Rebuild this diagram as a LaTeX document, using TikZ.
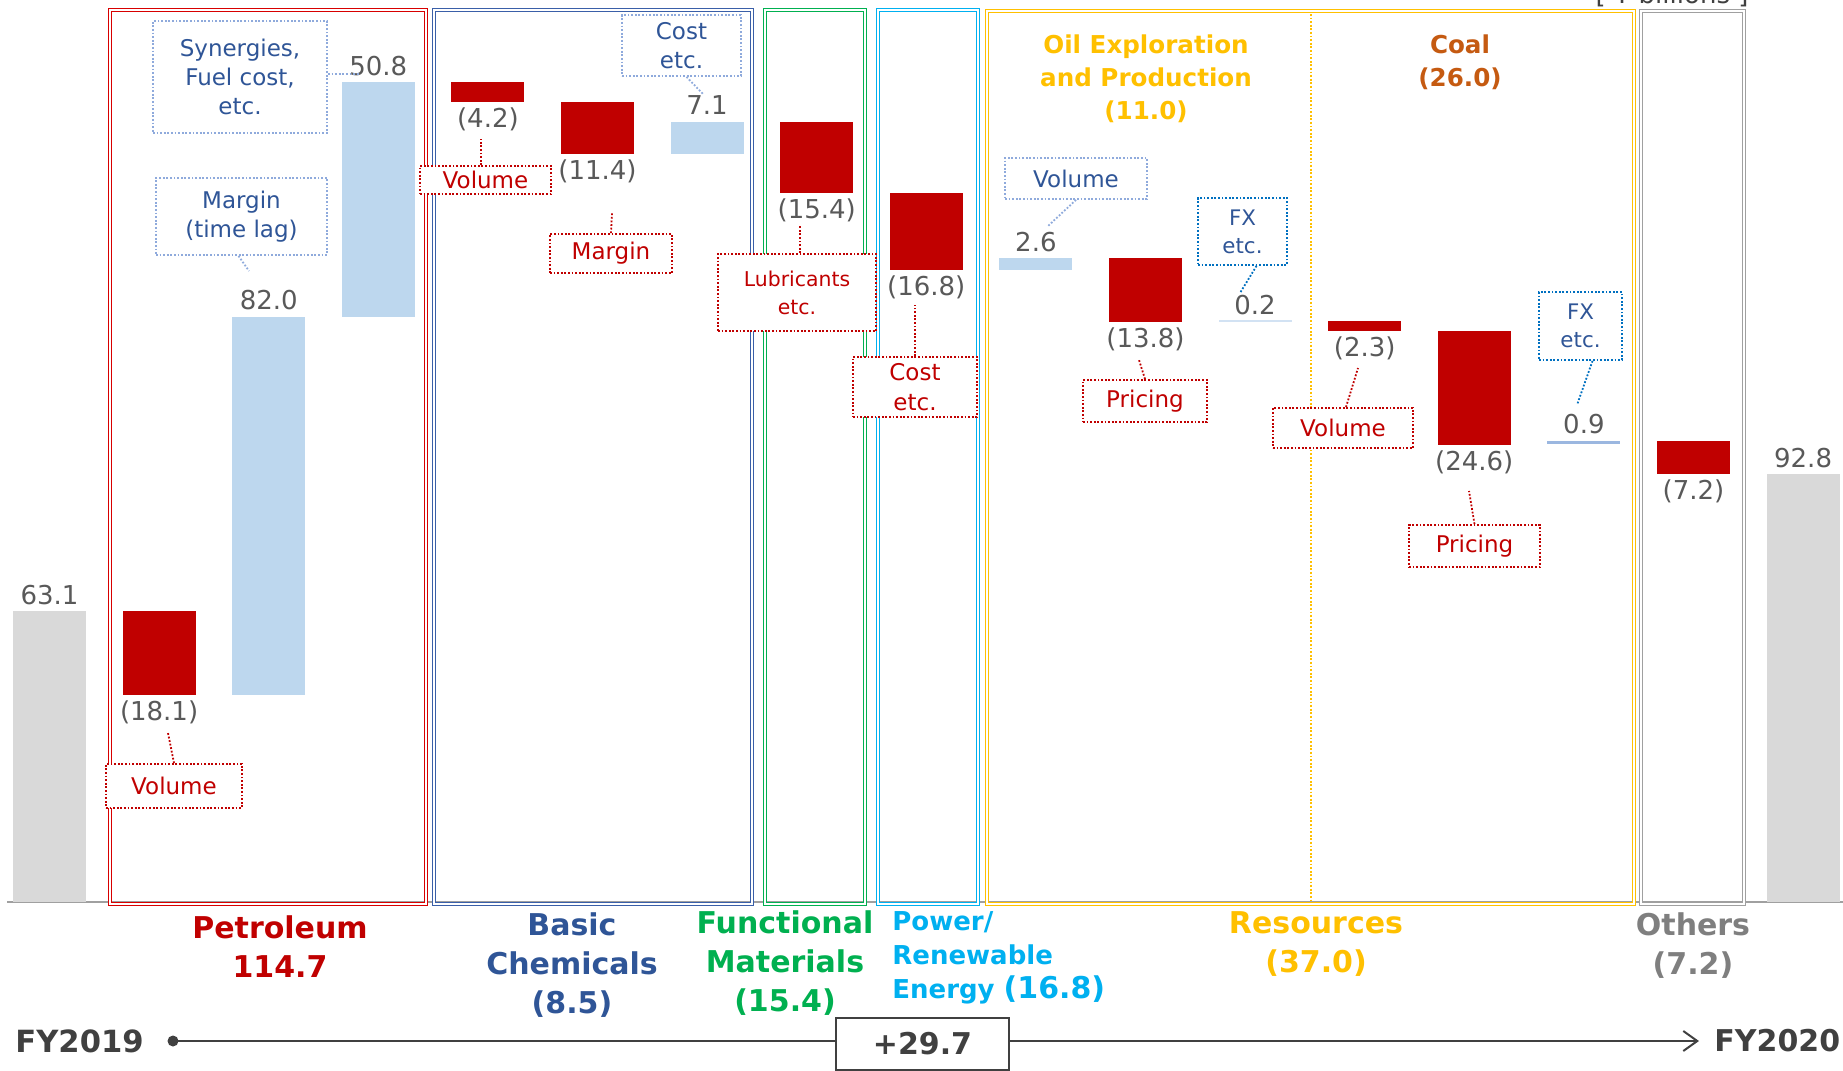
\documentclass[tikz,border=0pt]{standalone}
\usepackage{fontspec}
\setmainfont{DejaVu Sans}
\usetikzlibrary{arrows.meta,calc}
\definecolor{cRed}{HTML}{C00000}
\definecolor{cPetBox}{HTML}{D80000}
\definecolor{cBlueBar}{HTML}{BDD7EE}
\definecolor{cBlueThin}{HTML}{9BB7E0}
\definecolor{cBlueFaint}{HTML}{D2E2F3}
\definecolor{cGrayBar}{HTML}{D9D9D9}
\definecolor{cNum}{HTML}{595959}
\definecolor{cNavy}{HTML}{2F5597}
\definecolor{cBasBox}{HTML}{3A5FA8}
\definecolor{cLtBlue}{HTML}{8FAADC}
\definecolor{cFX}{HTML}{0070C0}
\definecolor{cGreen}{HTML}{00B050}
\definecolor{cCyan}{HTML}{00B0F0}
\definecolor{cGold}{HTML}{FFC000}
\definecolor{cCoal}{HTML}{C55A11}
\definecolor{cOther}{HTML}{7F7F7F}
\definecolor{cOthBox}{HTML}{A0A0A0}
\definecolor{cDark}{HTML}{404040}
\definecolor{cAxis}{HTML}{A0A0A0}
\newcommand{\myfs}[2]{\fontsize{#1}{#2}\selectfont}
\begin{document}
\begin{tikzpicture}[x=0.5pt,y=-0.5pt,
  num/.style={font=\myfs{13}{15}, text=cNum, inner sep=0},
  segbox/.style={draw=#1, double=white, line width=0.55pt, double distance=1.2pt},
  ann/.style={draw=#1, line width=0.9pt, dash pattern=on 0.9pt off 0.9pt, fill=white, align=center, inner sep=0, font=\myfs{11.5}{14.5}},
  redann/.style={ann=cRed, text=cRed},
  bluann/.style={ann=cLtBlue, text=cNavy},
  fxann/.style={ann=cFX, text=cNavy, font=\myfs{10.7}{14}},
  conn/.style={draw=#1, line width=0.9pt, dash pattern=on 0.9pt off 0.9pt},
  seglab/.style={font=\bfseries\myfs{15}{19.5}, align=center, inner sep=0},
]
\useasboundingbox (0,0) rectangle (1843,1071);
\clip (0,0) rectangle (1843,1071);
\fill[white] (0,0) rectangle (1843,1071);

% unit label (cut off at top, as in the reference)
\node[anchor=base, inner sep=0, text=cDark, font=\myfs{13}{15}] (unit) at (1672,3) {[ ¥ billions ]};

% axis
\draw[cAxis, line width=1pt] (7,902) -- (1843,902);

% segment boxes
\draw[segbox=cPetBox] (110,10) rectangle (426,904);
\draw[segbox=cBasBox] (434,10) rectangle (752,904);
\draw[segbox=cGreen] (765,10) rectangle (865,904);
\draw[segbox=cCyan] (878,10) rectangle (978,904);
\draw[segbox=cGold] (987,11) rectangle (1634,904);
\draw[segbox=cOthBox] (1641,11) rectangle (1744,904);
\draw[cGold, line width=0.9pt, dash pattern=on 0.9pt off 0.9pt] (1311,14) -- (1311,902);

% bars
\fill[cGrayBar] (13,611.1) rectangle (86,902);
\fill[cRed] (122.6,611.1) rectangle (195.6,694.6);
\fill[cBlueBar] (232.2,694.6) rectangle (305.2,316.5);
\fill[cBlueBar] (341.8,316.5) rectangle (414.8,82.3);
\fill[cRed] (451.4,82.3) rectangle (524.4,101.7);
\fill[cRed] (561.0,101.7) rectangle (634.0,154.3);
\fill[cBlueBar] (670.6,154.3) rectangle (743.6,121.5);
\fill[cRed] (780.2,121.5) rectangle (853.2,192.5);
\fill[cRed] (889.8,192.5) rectangle (962.8,270.0);
\fill[cBlueBar] (999.4,270.0) rectangle (1072.4,258.0);
\fill[cRed] (1109.0,258.0) rectangle (1182.0,321.6);
\fill[cBlueFaint] (1218.6,321.6) rectangle (1291.6,320.2);
\fill[cRed] (1328.2,320.7) rectangle (1401.2,331.3);
\fill[cRed] (1437.8,331.3) rectangle (1510.8,444.7);
\fill[cBlueThin] (1547.4,444.2) rectangle (1620.4,440.5);
\fill[cRed] (1657.0,440.5) rectangle (1730.0,473.7);
\fill[cGrayBar] (1766.6,474.2) rectangle (1839.6,902);

% value labels
\node[num] (v0) at (49.5,595) {63.1};
\node[num] (v1) at (159.1,712) {(18.1)};
\node[num] (v2) at (268.7,300.5) {82.0};
\node[num] (v3) at (378.3,66) {50.8};
\node[num] (v4) at (487.9,119) {(4.2)};
\node[num] (v5) at (597.5,171.5) {(11.4)};
\node[num] (v6) at (707.1,105.5) {7.1};
\node[num] (v7) at (816.7,210) {(15.4)};
\node[num] (v8) at (926.3,287.5) {(16.8)};
\node[num] (v9) at (1035.9,242) {2.6};
\node[num] (v10) at (1145.5,339) {(13.8)};
\node[num] (v11) at (1255.1,304.7) {0.2};
\node[num] (v12) at (1364.7,348.8) {(2.3)};
\node[num] (v13) at (1474.3,462) {(24.6)};
\node[num] (v14) at (1583.9,424.5) {0.9};
\node[num] (v15) at (1693.5,491) {(7.2)};
\node[num] (v16) at (1803.1,458) {92.8};

% annotation boxes
\node[bluann, minimum width=87pt, minimum height=56pt] (syn) at (240,77) {Synergies,\\Fuel cost,\\etc.};
\node[bluann, minimum width=85.5pt, minimum height=38.5pt] (marg) at (241.5,216.5) {Margin\\(time lag)};
\node[redann, minimum width=68pt, minimum height=22pt] (vol1) at (174,786) {Volume};
\node[redann, minimum width=65.5pt, minimum height=14pt] (vol2) at (485.5,180) {Volume};
\node[redann, minimum width=61pt, minimum height=19.5pt] (marg2) at (611,253.5) {Margin};
\node[bluann, minimum width=59.5pt, minimum height=30.5pt] (cost1) at (681.5,45.5) {Cost\\etc.};
\node[redann, minimum width=79pt, minimum height=38.5pt, font=\myfs{10.2}{14}] (lub) at (797,292.5) {Lubricants\\etc.};
\node[redann, minimum width=62pt, minimum height=30pt, font=\myfs{11.5}{15}] (cost2) at (915,387) {Cost\\etc.};
\node[bluann, minimum width=71pt, minimum height=20.5pt] (vol3) at (1076,178.5) {Volume};
\node[redann, minimum width=62pt, minimum height=21pt] (pric1) at (1145,401) {Pricing};
\node[fxann, minimum width=44.5pt, minimum height=33.5pt] (fx1) at (1242.5,231.5) {FX\\etc.};
\node[redann, minimum width=70pt, minimum height=20pt] (vol4) at (1343,428) {Volume};
\node[redann, minimum width=65.5pt, minimum height=21pt] (pric2) at (1474.5,546) {Pricing};
\node[fxann, minimum width=41.5pt, minimum height=34pt] (fx2) at (1580.5,326) {FX\\etc.};

% connector free ends
\coordinate (e-syn) at (360,74);
\coordinate (e-marg) at (249,271);
\coordinate (e-vol1) at (168,733);
\coordinate (e-vol2) at (481,139);
\coordinate (e-marg2) at (612,213);
\coordinate (e-cost1) at (703,94);
\coordinate (e-lub) at (800,225);
\coordinate (e-cost2) at (915,305);
\coordinate (e-vol3) at (1048,226);
\coordinate (e-pric1) at (1139,360);
\coordinate (e-fx1) at (1240,293);
\coordinate (e-vol4) at (1358,368);
\coordinate (e-pric2) at (1469,491);
\coordinate (e-fx2) at (1577,405);

\draw[conn=cLtBlue] (syn.east |- e-syn) -- (e-syn);
\draw[conn=cLtBlue] ($(marg.south)+(-3,0)$) -- (e-marg);
\draw[conn=cRed] (vol1.north) -- (e-vol1);
\draw[conn=cRed] (e-vol2 |- vol2.north) -- (e-vol2);
\draw[conn=cRed] (marg2.north) -- (e-marg2);
\draw[conn=cLtBlue] ($(cost1.south)+(5,0)$) -- (e-cost1);
\draw[conn=cRed] (e-lub |- lub.north) -- (e-lub);
\draw[conn=cRed] (cost2.north) -- (e-cost2);
\draw[conn=cLtBlue] (vol3.south) -- (e-vol3);
\draw[conn=cRed] (pric1.north) -- (e-pric1);
\draw[conn=cFX] ($(fx1.south)+(14,0)$) -- (e-fx1);
\draw[conn=cRed] ($(vol4.north)+(3,0)$) -- (e-vol4);
\draw[conn=cRed] (pric2.north) -- (e-pric2);
\draw[conn=cFX] ($(fx2.south)+(12,0)$) -- (e-fx2);

% top sub-segment labels
\node[font=\bfseries\myfs{12.3}{16.5}, text=cGold, align=center, inner sep=0] (oilLab) at (1146,79) {Oil Exploration\\and Production\\(11.0)};
\node[font=\bfseries\myfs{12.3}{16.5}, text=cCoal, align=center, inner sep=0] (coalLab) at (1460,62) {Coal\\(26.0)};

% segment labels
\node[seglab, text=cRed] (segPet) at (280,946.5) {Petroleum\\114.7};
\node[seglab, text=cNavy] (segBas) at (572,965) {Basic\\Chemicals\\(8.5)};
\node[seglab, text=cGreen] (segFun) at (785,963) {Functional\\Materials\\(15.4)};
\node[anchor=west, align=left, inner sep=0, text=cCyan, font=\bfseries\myfs{13}{17}] (segPow) at (892,957.5) {Power/\\Renewable\\Energy {\myfs{15}{17}(16.8)}};
\node[seglab, text=cGold] (segRes) at (1316,944.5) {Resources\\(37.0)};
\node[seglab, text=cOther] (segOth) at (1693,946) {Others\\(7.2)};

% FY line
\node[anchor=west, inner sep=0, text=cDark, font=\bfseries\myfs{15.3}{18}] (fy19) at (15,1041) {FY2019};
\node[circle, fill=cDark, inner sep=0, minimum size=5.5pt] (dot) at (173,1041) {};
\node[draw=cDark, line width=1pt, fill=white, minimum width=86.5pt, minimum height=26pt, inner sep=0, text=cDark, font=\bfseries\myfs{15}{18}] (delta) at (922.5,1044) {+29.7};
\node[anchor=west, inner sep=0, text=cDark, font=\bfseries\myfs{15}{18}] (fy20) at (1714,1041) {FY2020};
\coordinate (arrEnd) at (1699,1041);
\draw[cDark, line width=1pt] (dot.center) -- (delta.west |- dot.center);
\draw[cDark, line width=1pt, -{Straight Barb[length=7pt,width=10pt,line width=1pt]}] (delta.east |- arrEnd) -- (arrEnd);
\end{tikzpicture}
\end{document}
